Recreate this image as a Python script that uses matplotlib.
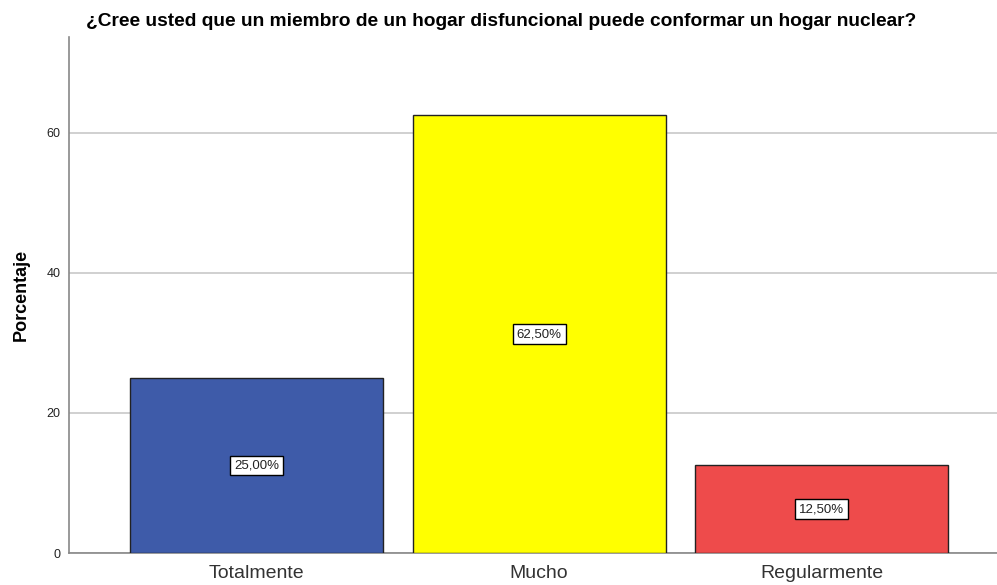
import matplotlib
matplotlib.use("Agg")
import matplotlib.pyplot as plt

# Datos
categorias = ["Totalmente", "Mucho", "Regularmente"]
porcentajes = [25.0, 62.5, 12.5]
etiquetas = ["25,00%", "62,50%", "12,50%"]
colores = ["#3e5ba9", "#ffff00", "#ee4b4b"]
yticks = [0, 20, 40, 60]

plt.rcParams['font.family'] = ['Liberation Sans', 'DejaVu Sans']

fig = plt.figure(figsize=(9.97, 5.85), dpi=100)
ax = fig.add_axes([69 / 997, 32 / 585, 928 / 997, 516 / 585])

x = range(len(categorias))
ax.bar(x, porcentajes, width=0.896, color=colores, edgecolor="#222222", linewidth=1.0, zorder=3)

for xi, v, lab in zip(x, porcentajes, etiquetas):
    ax.text(xi, v / 2, lab, ha="center", va="center", fontsize=9.5, color="#222222", zorder=4,
            bbox=dict(boxstyle="square,pad=0.3", facecolor="white", edgecolor="black", linewidth=1))

ax.set_xlim(-0.664, 2.621)
ax.set_ylim(0, 73.7)
ax.set_yticks(yticks)
ax.set_xticks(list(x))
ax.set_xticklabels(categorias, fontsize=14, color="#333333")
ax.tick_params(axis="x", length=0, pad=9)
ax.tick_params(axis="y", length=0, pad=6, labelsize=9, labelcolor="#222222")
ax.yaxis.grid(True, color="#c8c8c8", linewidth=1.2, zorder=0)

for s in ["top", "right"]:
    ax.spines[s].set_visible(False)
ax.spines["left"].set_color("#888888")
ax.spines["bottom"].set_color("#888888")
ax.spines["left"].set_linewidth(1.2)
ax.spines["bottom"].set_linewidth(1.2)

ax.set_ylabel("Porcentaje", fontsize=13, fontweight="bold", labelpad=12)
fig.text(86 / 997, 1 - 22 / 585,
         "¿Cree usted que un miembro de un hogar disfuncional puede conformar un hogar nuclear?",
         fontsize=13.8, fontweight="bold", ha="left", va="center")

fig.savefig("out.png", dpi=100)
